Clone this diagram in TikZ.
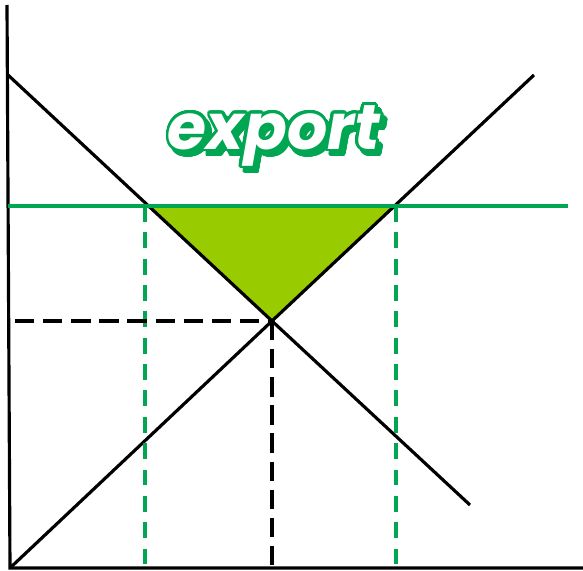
\documentclass[tikz,border=0pt]{standalone}
\usepackage{fontspec}
\usepackage[copies]{contour}
\usetikzlibrary{positioning}
\newfontfamily\wordart{Poppins}
\definecolor{pricegreen}{HTML}{00A651}
\definecolor{surplus}{HTML}{99CC00}
\contourlength{1.6pt}
\contournumber{32}

\begin{document}
\begin{tikzpicture}[x=0.02cm, y=-0.02cm,
	axis/.style={line width=1.8pt, black},
	curve/.style={line width=1.8pt, black},
	guide/.style={line width=1.8pt, black, dash pattern=on 11pt off 5pt},
	greenguide/.style={line width=1.8pt, pricegreen, dash pattern=on 9pt off 6pt},
	wordartstyle/.style={font=\wordart\bfseries\itshape\fontsize{36}{36}\selectfont}]
	\useasboundingbox (0,0) rectangle (583,571);
	% points of the market
	\coordinate (origin) at (10,568);
	\coordinate (ytop) at (7,5);
	\coordinate (xend) at (583,568);
	\coordinate (eq) at (272,321);
	\coordinate (dleft) at (148,206);
	\coordinate (sright) at (394,206);
	% export surplus
	\fill[surplus] (dleft) -- (sright) -- (eq) -- cycle;
	% axes
	\draw[axis] (ytop) -- (origin) -- (xend);
	% demand and supply
	\draw[curve] (8,75) -- (eq) -- (470,505);
	\draw[curve] (origin) -- (eq) -- (534,75);
	% world price
	\draw[line width=2pt, pricegreen] (8,206) -- (568,206);
	\draw[greenguide] (145,206) -- (145,568);
	\draw[greenguide] (396,206) -- (396,568);
	% domestic equilibrium
	\draw[guide] (15,321) -- (eq);
	\draw[guide] (eq) -- (272,568);
	% label
	\node[wordartstyle] (shadow) at (278,142)
		{\contour{pricegreen}{\textcolor{pricegreen}{export}}};
	\node[wordartstyle] (label) at (274,137)
		{\contour{pricegreen}{\textcolor{white}{export}}};
\end{tikzpicture}
\end{document}
